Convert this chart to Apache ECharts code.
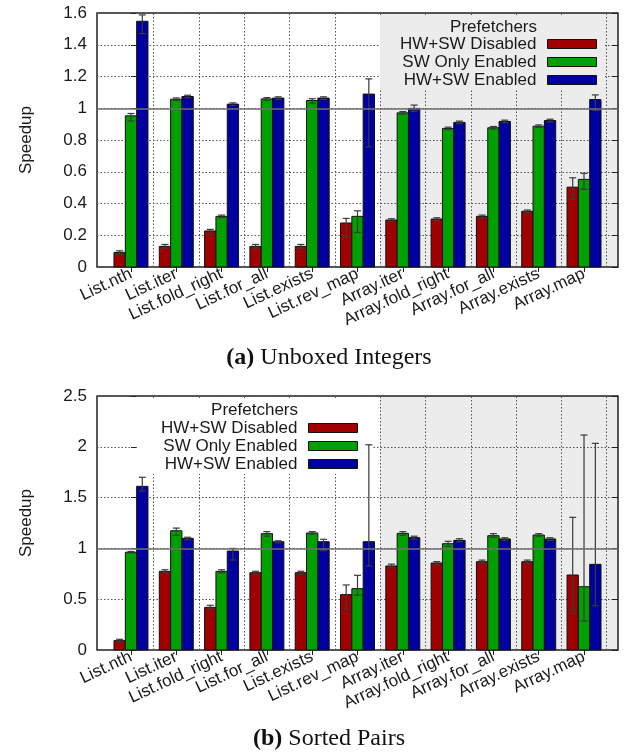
<!DOCTYPE html>
<html>
<head>
<meta charset="utf-8">
<title>Prefetcher speedup</title>
<script src="https://cdn.jsdelivr.net/npm/echarts@6/dist/echarts.min.js"></script>
<style>
  html, body { margin: 0; padding: 0; background: #fff; }
  #chart { width: 634px; height: 752px; }
</style>
</head>
<body>
<div id="chart"></div>
<script>
// Benchmarks (x axis)
const categories = ['List.nth', 'List.iter', 'List.fold_right', 'List.for_all', 'List.exists',
  'List.rev_map', 'Array.iter', 'Array.fold_right', 'Array.for_all', 'Array.exists', 'Array.map'];

const seriesNames = ['HW+SW Disabled', 'SW Only Enabled', 'HW+SW Enabled'];

// (a) Unboxed Integers: speedup and error-bar bounds
const intDisabled   = [0.092, 0.13, 0.227, 0.13, 0.13, 0.277, 0.296, 0.302, 0.319, 0.351, 0.503];
const intDisabledLo = [0.08, 0.118, 0.21, 0.118, 0.118, 0.191, 0.288, 0.294, 0.311, 0.343, 0.426];
const intDisabledHi = [0.102, 0.142, 0.237, 0.142, 0.142, 0.306, 0.304, 0.31, 0.327, 0.359, 0.562];
const intSwOnly     = [0.952, 1.057, 0.319, 1.059, 1.049, 0.319, 0.971, 0.873, 0.877, 0.887, 0.552];
const intSwOnlyLo   = [0.92, 1.049, 0.311, 1.051, 1.032, 0.218, 0.963, 0.865, 0.869, 0.879, 0.489];
const intSwOnlyHi   = [0.967, 1.065, 0.327, 1.067, 1.06, 0.354, 0.979, 0.881, 0.885, 0.895, 0.59];
const intEnabled    = [1.548, 1.074, 1.026, 1.064, 1.064, 1.089, 0.999, 0.911, 0.917, 0.923, 1.055];
const intEnabledLo  = [1.47, 1.066, 1.018, 1.056, 1.056, 0.757, 0.98, 0.903, 0.909, 0.915, 0.986];
const intEnabledHi  = [1.588, 1.082, 1.034, 1.072, 1.072, 1.185, 1.02, 0.919, 0.925, 0.931, 1.084];

// (b) Sorted Pairs: speedup and error-bar bounds
const pairDisabled   = [0.092, 0.774, 0.42, 0.761, 0.761, 0.545, 0.827, 0.856, 0.869, 0.869, 0.738];
const pairDisabledLo = [0.08, 0.76, 0.40, 0.745, 0.745, 0.40, 0.81, 0.84, 0.855, 0.85, 0.361];
const pairDisabledHi = [0.105, 0.79, 0.44, 0.775, 0.775, 0.64, 0.845, 0.87, 0.885, 0.885, 1.306];
const pairSwOnly     = [0.962, 1.174, 0.774, 1.145, 1.152, 0.604, 1.148, 1.046, 1.125, 1.132, 0.623];
const pairSwOnlyLo   = [0.955, 1.13, 0.76, 1.12, 1.14, 0.54, 1.13, 1.02, 1.11, 1.12, 0.285];
const pairSwOnlyHi   = [0.97, 1.20, 0.79, 1.165, 1.165, 0.735, 1.165, 1.07, 1.145, 1.145, 2.116];
const pairEnabled    = [1.611, 1.099, 0.974, 1.066, 1.066, 1.066, 1.106, 1.079, 1.093, 1.093, 0.843];
const pairEnabledLo  = [1.565, 1.085, 0.886, 1.055, 0.977, 0.827, 1.09, 1.065, 1.08, 1.08, 0.436];
const pairEnabledHi  = [1.70, 1.11, 1.00, 1.075, 1.09, 2.02, 1.12, 1.095, 1.105, 1.105, 2.034];

// Y-axis ranges
const intYMax = 1.6, intYStep = 0.2;
const pairYMax = 2.5, pairYStep = 0.5;

const COLORS = ['#a00000', '#00a000', '#0000a0'];
const OFFSETS = [-0.25, 0, 0.25];
const BAR_W = 0.25;
const FONT = 'Liberation Sans, Arial, Helvetica, sans-serif';
const SERIF = 'Liberation Serif, Times New Roman, serif';
const TEXT = '#1a1a1a';
const catIdx = categories.map((_, i) => i);
const gridLinesX = catIdx.map(i => ({ xAxis: i + 0.5 }));

function barRenderer(offset, color) {
  return function (params, api) {
    const x = api.value(0), v = api.value(1), lo = api.value(2), hi = api.value(3);
    const tl = api.coord([x + offset - BAR_W / 2, v]);
    const br = api.coord([x + offset + BAR_W / 2, 0]);
    const pLo = api.coord([x + offset, lo]);
    const pHi = api.coord([x + offset, hi]);
    const cap = 3.5;
    const eb = { stroke: '#3a3a3a', lineWidth: 1.2 };
    return {
      type: 'group',
      children: [
        { type: 'rect', shape: { x: tl[0], y: tl[1], width: br[0] - tl[0], height: br[1] - tl[1] },
          style: { fill: color, stroke: '#111', lineWidth: 1 } },
        { type: 'line', shape: { x1: pLo[0], y1: pLo[1], x2: pHi[0], y2: pHi[1] }, style: eb },
        { type: 'line', shape: { x1: pLo[0] - cap, y1: pLo[1], x2: pLo[0] + cap, y2: pLo[1] }, style: eb },
        { type: 'line', shape: { x1: pHi[0] - cap, y1: pHi[1], x2: pHi[0] + cap, y2: pHi[1] }, style: eb }
      ]
    };
  };
}

function barSeries(gridIndex, k, vals, lo, hi) {
  return {
    name: seriesNames[k],
    type: 'custom',
    xAxisIndex: gridIndex,
    yAxisIndex: gridIndex * 2,
    itemStyle: { color: COLORS[k], borderColor: '#111', borderWidth: 1 },
    encode: { x: 0, y: 1 },
    data: catIdx.map(i => [i, vals[i], lo[i], hi[i]]),
    renderItem: barRenderer(OFFSETS[k], COLORS[k]),
    z: 5
  };
}

function frameSeries(gridIndex) {
  return [
    {
      // shaded Array.* region and dotted separators between benchmarks
      type: 'line', xAxisIndex: gridIndex, yAxisIndex: gridIndex * 2, data: [], silent: true,
      markArea: {
        silent: true, z: 0.5,
        itemStyle: { color: 'rgba(0,0,0,0.075)' },
        data: [[{ xAxis: 5.5 }, { xAxis: 10.75 }]]
      },
      markLine: {
        silent: true, z: 1, symbol: 'none', label: { show: false },
        lineStyle: { color: '#555', width: 1, type: [1.5, 2] },
        data: gridLinesX
      }
    },
    {
      // speedup = 1 reference line, drawn over the bars
      type: 'line', xAxisIndex: gridIndex, yAxisIndex: gridIndex * 2, data: [], silent: true,
      markLine: {
        silent: true, z: 6, symbol: 'none', label: { show: false },
        lineStyle: { color: '#707070', width: 1.5, type: 'solid' },
        data: [{ yAxis: 1 }]
      }
    }
  ];
}

function xAxisFor(gridIndex) {
  return {
    type: 'value', gridIndex, min: -0.75, max: 10.75,
    axisLine: { show: false },
    splitLine: { show: false },
    axisTick: { show: true, customValues: catIdx, length: 5, inside: false,
      lineStyle: { color: '#222', width: 1 } },
    axisLabel: {
      customValues: catIdx,
      formatter: v => categories[Math.round(v)],
      rotate: 25, fontSize: 17, fontFamily: FONT, color: TEXT, margin: 6
    }
  };
}

function yAxesFor(gridIndex, max, step) {
  const fmt = v => String(Math.round(v * 10) / 10);
  return [
    {
      type: 'value', gridIndex, min: 0, max, interval: step, position: 'left',
      name: 'Speedup', nameLocation: 'middle', nameRotate: 90, nameGap: 62,
      nameTextStyle: { fontSize: 17, fontFamily: FONT, color: TEXT },
      axisLine: { show: false },
      axisTick: { show: true, inside: true, length: 5, lineStyle: { color: '#222' } },
      axisLabel: { fontSize: 17, fontFamily: FONT, color: TEXT, margin: 10, formatter: fmt },
      splitLine: { show: true, lineStyle: { color: '#555', width: 1, type: [1.5, 2] } }
    },
    {
      type: 'value', gridIndex, min: 0, max, interval: step, position: 'right',
      axisLine: { show: false },
      axisTick: { show: true, inside: true, length: 6, lineStyle: { color: '#222' } },
      axisLabel: { show: false },
      splitLine: { show: false }
    }
  ];
}

function legendFor(opts) {
  return {
    orient: 'vertical', align: 'right',
    right: opts.right, top: opts.top, padding: opts.padding,
    backgroundColor: opts.bg,
    itemWidth: 49, itemHeight: 9, itemGap: 0,
    icon: 'rect',
    selectedMode: false,
    z: 4,
    data: seriesNames.map((n, k) => ({
      name: n,
      itemStyle: { color: COLORS[k], borderColor: '#111', borderWidth: 1 }
    })),
    formatter: n => '{t|' + n + '}',
    textStyle: {
      fontSize: 17, fontFamily: FONT, color: TEXT, lineHeight: 18,
      rich: { t: { fontSize: 17, fontFamily: FONT, color: TEXT, lineHeight: 18, padding: [0, 6, 0, 0] } }
    }
  };
}

function caption(x, y, tag, text) {
  return {
    type: 'text', x, y, z: 10, silent: true,
    style: {
      text: '{b|' + tag + '} ' + text, fill: '#111', font: '24px ' + SERIF,
      align: 'center', verticalAlign: 'middle',
      rich: { b: { fontWeight: 'bold', fontSize: 24, fontFamily: SERIF, fill: '#111' } }
    }
  };
}

const chart = echarts.init(document.getElementById('chart'), null, { renderer: 'canvas' });

chart.setOption({
  animation: false,
  backgroundColor: '#fff',
  grid: [
    { left: 97, right: 16, top: 13, height: 254, show: true, borderColor: '#222', borderWidth: 1.5, backgroundColor: 'transparent' },
    { left: 97, right: 16, top: 396, height: 254, show: true, borderColor: '#222', borderWidth: 1.5, backgroundColor: 'transparent' }
  ],
  xAxis: [xAxisFor(0), xAxisFor(1)],
  yAxis: [...yAxesFor(0, intYMax, intYStep), ...yAxesFor(1, pairYMax, pairYStep)],
  legend: [
    legendFor({ right: 29, top: 17, padding: [18, 8, 0, 20], bg: '#ececec' }),
    legendFor({ right: 261, top: 400, padding: [19, 15, 1, 23], bg: '#ffffff' })
  ],
  graphic: [
    { type: 'text', x: 537, y: 27, z: 10, silent: true,
      style: { text: 'Prefetchers', fill: TEXT, font: '17px ' + FONT, align: 'right', verticalAlign: 'middle' } },
    { type: 'text', x: 298, y: 410, z: 10, silent: true,
      style: { text: 'Prefetchers', fill: TEXT, font: '17px ' + FONT, align: 'right', verticalAlign: 'middle' } },
    caption(329, 358, '(a)', 'Unboxed Integers'),
    caption(329, 739, '(b)', 'Sorted Pairs')
  ],
  series: [
    ...frameSeries(0),
    barSeries(0, 0, intDisabled, intDisabledLo, intDisabledHi),
    barSeries(0, 1, intSwOnly, intSwOnlyLo, intSwOnlyHi),
    barSeries(0, 2, intEnabled, intEnabledLo, intEnabledHi),
    ...frameSeries(1),
    barSeries(1, 0, pairDisabled, pairDisabledLo, pairDisabledHi),
    barSeries(1, 1, pairSwOnly, pairSwOnlyLo, pairSwOnlyHi),
    barSeries(1, 2, pairEnabled, pairEnabledLo, pairEnabledHi)
  ]
});
</script>
</body>
</html>
